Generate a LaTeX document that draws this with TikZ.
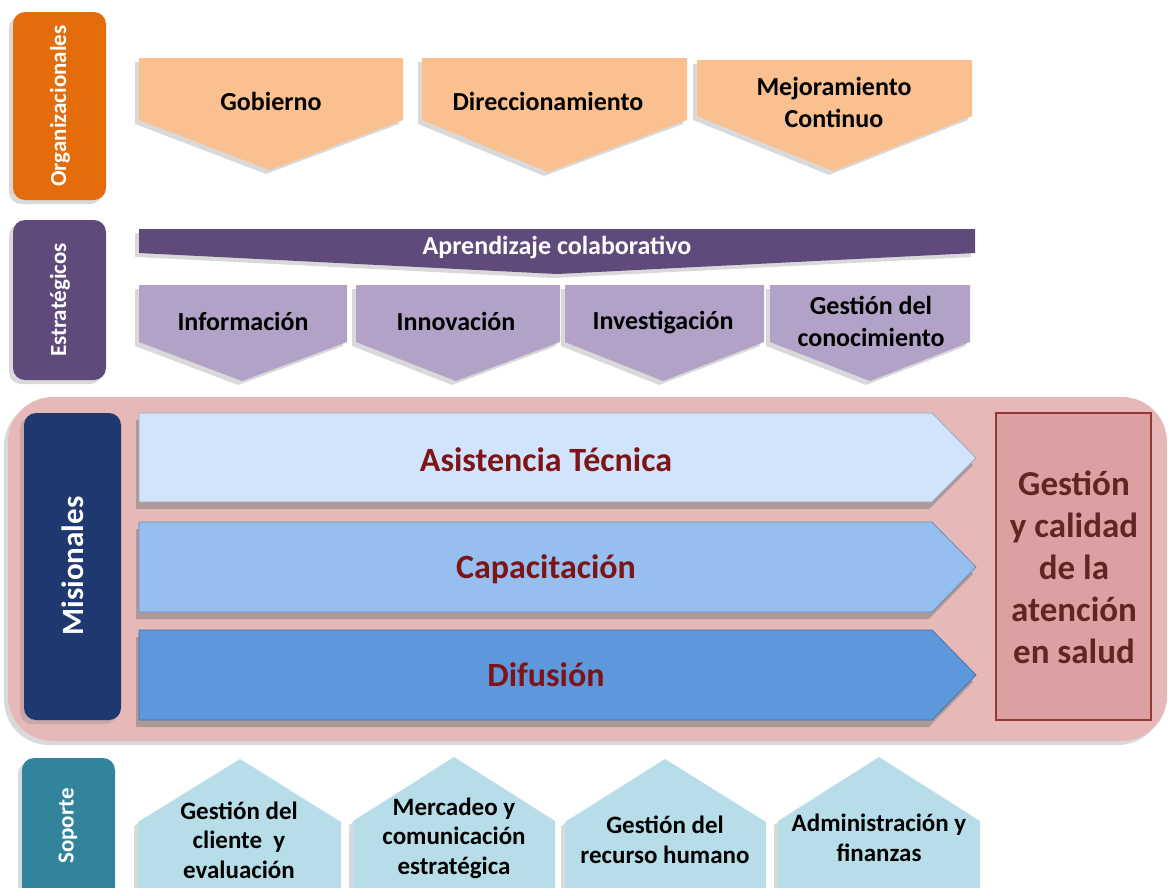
\documentclass[tikz,border=0pt]{standalone}
\usepackage{fontspec}
\setmainfont{Carlito}
\usetikzlibrary{shadows}

\definecolor{orgbg}{HTML}{E46C0A}
\definecolor{peach}{HTML}{FAC090}
\definecolor{estbg}{HTML}{604A7B}
\definecolor{lilac}{HTML}{B3A2C7}
\definecolor{misbg}{HTML}{E6B9B8}
\definecolor{navy}{HTML}{1F3870}
\definecolor{arrA}{HTML}{D1E4FB}
\definecolor{arrB}{HTML}{96BEEF}
\definecolor{arrC}{HTML}{5D98DD}
\definecolor{wine}{HTML}{7D1518}
\definecolor{gcfill}{HTML}{DDA0A2}
\definecolor{gcline}{HTML}{953735}
\definecolor{gctext}{HTML}{632523}
\definecolor{teal}{HTML}{31849B}
\definecolor{house}{HTML}{B7DEE8}

\begin{document}
\begin{tikzpicture}[x=1bp, y=-1bp,
    shade/.style={drop shadow={shadow xshift=-4bp, shadow yshift=-4bp, opacity=0.3}},
    sidebox/.style={rounded corners=12bp, shade},
    sidelab/.style={white, rotate=90, font=\bfseries\fontsize{23bp}{26bp}\selectfont},
    txt/.style={align=center, font=\bfseries\fontsize{26bp}{32bp}\selectfont},
    hometxt/.style={align=center, font=\bfseries\fontsize{25bp}{29.5bp}\selectfont},
    bigtxt/.style={wine, font=\bfseries\fontsize{34bp}{38bp}\selectfont},
    bar/.style={draw=#1!75!black, line width=0.8bp, fill=#1,
      drop shadow={shadow xshift=-3bp, shadow yshift=-7bp, opacity=0.55}}]
    \useasboundingbox (0,0) rectangle (1168,888);

    \begin{scope}
      \fill[orgbg, sidebox] (13,12) rectangle (106,200);
      \node[sidelab] (org) at (60,106) {Organizacionales};
      \fill[peach, shade] (139,58) -- (403,58) -- (403,120) -- (270,170) -- (139,120) -- cycle;
      \fill[peach, shade] (422,58) -- (687,58) -- (687,120) -- (548,172) -- (422,120) -- cycle;
      \fill[peach, shade] (697,60) -- (972,60) -- (972,116) -- (833,171) -- (697,116) -- cycle;
      \node[txt] (gob) at (271,101) {Gobierno};
      \node[txt] (dir) at (548,101) {Direccionamiento};
      \node[txt] (mej) at (834,102) {Mejoramiento\\Continuo};
    \end{scope}

    \begin{scope}
      \fill[estbg, sidebox] (13,220) rectangle (106,380);
      \node[sidelab] (est) at (60,300) {Estratégicos};
      \fill[estbg, shade] (139,229) -- (975,229) -- (975,253) -- (557,274) -- (139,253) -- cycle;
      \node[txt, white] (apr) at (557,248) {Aprendizaje colaborativo};
      \fill[lilac, shade] (139,285) -- (347,285) -- (347,342) -- (242,381) -- (139,342) -- cycle;
      \fill[lilac, shade] (356,285) -- (560,285) -- (560,342) -- (456,381) -- (356,342) -- cycle;
      \fill[lilac, shade] (565,285) -- (764,285) -- (764,342) -- (663,381) -- (565,342) -- cycle;
      \fill[lilac, shade] (770,285) -- (970,285) -- (970,342) -- (870,381) -- (770,342) -- cycle;
      \node[txt] (inf) at (243,321) {Información};
      \node[txt] (inn) at (456,321) {Innovación};
      \node[txt] (inv) at (663,323) {Investigación};
      \node[txt] (gco) at (871,321) {Gestión del\\conocimiento};
    \end{scope}

    \begin{scope}
      \fill[misbg, rounded corners=45bp, shade] (8,397) rectangle (1167,741);
      \fill[navy, sidebox] (24,413) rectangle (121,720);
      \node[sidelab, font=\bfseries\fontsize{31bp}{34bp}\selectfont] (mis) at (73,566) {Misionales};
      \path[bar=arrA] (139,413) -- (932,413) -- (976,458) -- (932,502) -- (139,502) -- cycle;
      \path[bar=arrB] (139,522) -- (932,522) -- (976,567) -- (932,612) -- (139,612) -- cycle;
      \path[bar=arrC] (139,630) -- (932,630) -- (976,675) -- (932,720) -- (139,720) -- cycle;
      \node[bigtxt] (asi) at (546,460) {Asistencia Técnica};
      \node[bigtxt] (cap) at (546,569) {Capacitación};
      \node[bigtxt] (dif) at (546,675) {Difusión};
      \draw[gcline, fill=gcfill, line width=2bp] (996,413) rectangle (1151,720);
      \node[gctext, align=center, font=\bfseries\fontsize{35bp}{42bp}\selectfont] (gca) at (1074,567)
        {Gestión\\y calidad\\de la\\atención\\en salud};
    \end{scope}

    \begin{scope}
      \fill[teal, sidebox] (22,758) rectangle (115,900);
      \node[sidelab] (sop) at (68,826) {Soporte};
      \fill[house, shade] (138,895) -- (138,822) -- (240,759) -- (341,822) -- (341,895) -- cycle;
      \fill[house, shade] (353,895) -- (353,821) -- (454,757) -- (555,821) -- (555,895) -- cycle;
      \fill[house, shade] (565,895) -- (565,822) -- (665,759) -- (766,822) -- (766,895) -- cycle;
      \fill[house, shade] (778,895) -- (778,821) -- (879,757) -- (980,821) -- (980,895) -- cycle;
      \node[hometxt] (cli) at (239,840) {Gestión del\\cliente\ \ y\\evaluación};
      \node[hometxt] (mer) at (454,838) {Mercadeo y\\comunicación\\estratégica};
      \node[hometxt] (rhu) at (665,840) {Gestión del\\recurso humano};
      \node[hometxt] (adm) at (879,838) {Administración y\\finanzas};
    \end{scope}
  \end{tikzpicture}
\end{document}
